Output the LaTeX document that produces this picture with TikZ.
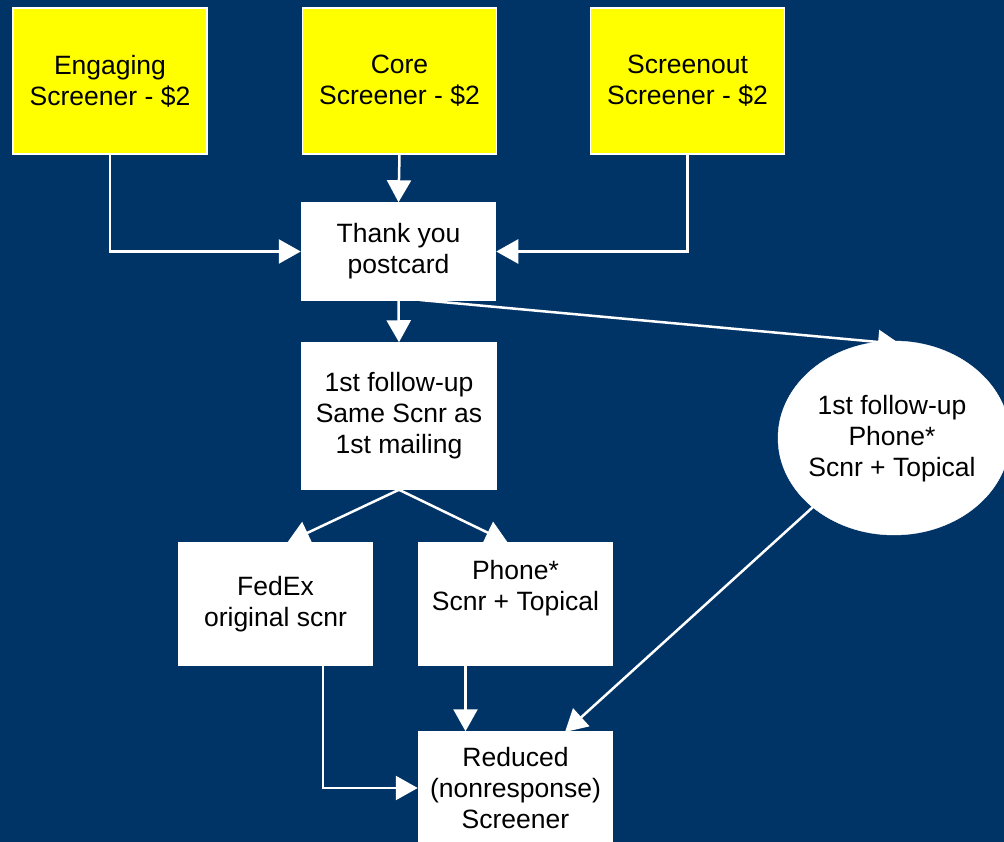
\documentclass[tikz,border=0pt]{standalone}
\usepackage{fontspec}
\setmainfont{Liberation Sans}
\usetikzlibrary{arrows.meta,shapes.geometric}
\definecolor{navy}{RGB}{0,51,102}
\definecolor{yel}{RGB}{255,255,0}
\tikzset{
  box/.style={draw=white, line width=1.5pt, fill=white, minimum width=194pt, inner sep=0pt, align=center, font=\fontsize{26.5}{31}\selectfont, text=black},
  ybox/.style={box, fill=yel, minimum height=146pt},
  txt/.style={align=center, font=\fontsize{26.5}{31}\selectfont, text=black, inner sep=0pt},
  conn/.style={draw=white, line width=2.5pt, -{Triangle[width=24pt,length=22pt,fill=white]}},
}
\begin{document}
\begin{tikzpicture}[x=1pt,y=-1pt]
\useasboundingbox (0,0) rectangle (1004,842);
\fill[navy] (0,0) rectangle (1004,842);
\clip (0,0) rectangle (1004,842);
\coordinate (tyout) at (420,300);
\coordinate (ellin) at (900,344);
\coordinate (ellout) at (813,507);
\coordinate (redin) at (565,732);

\node[ybox] (eng) at (110,81) {Engaging\\Screener - \$2};
\node[ybox] (core) at (399.5,81) {Core\\Screener - \$2};
\node[ybox] (scr) at (687.5,81) {Screenout\\Screener - \$2};
\node[box, minimum height=97pt] (ty) at (398.5,251.5) {Thank you\\postcard};
\node[box, minimum height=146pt] (fu) at (399,416) {1st follow-up\\Same Scnr as\\1st mailing};
\node[box, minimum height=122pt] (fed) at (275.5,604) {FedEx\\original scnr};
\node[box, minimum height=122pt] (ph) at (515.5,604) {};
\node[txt] (phtxt) at (515.5,588) {Phone*\\Scnr + Topical};
\node[box, minimum height=112pt] (red) at (515.5,788) {Reduced\\(nonresponse)\\Screener};
\node[ellipse, fill=white, draw=white, minimum width=232pt, minimum height=194pt, inner sep=0pt] (ell) at (894,438) {};
\node[txt] (elltxt) at (892,439) {1st follow-up\\Phone*\\Scnr + Topical};

\draw[conn] (eng.south) |- (ty.west);
\draw[conn] (core.south) -- (ty.north);
\draw[conn] (scr.south) |- (ty.east);
\draw[conn] (ty.south) -- (fu.north);
\draw[conn] (tyout) -- (ellin);
\draw[conn] (fu.south) -- ([xshift=12pt]fed.north);
\draw[conn] (fu.south) -- ([xshift=-8pt]ph.north);
\draw[conn] ([xshift=-50pt]ph.south) -- ([xshift=-50pt]red.north);
\draw[conn] ([xshift=47.5pt]fed.south) |- (red.west);
\draw[conn] (ellout) -- (redin);
\end{tikzpicture}
\end{document}
